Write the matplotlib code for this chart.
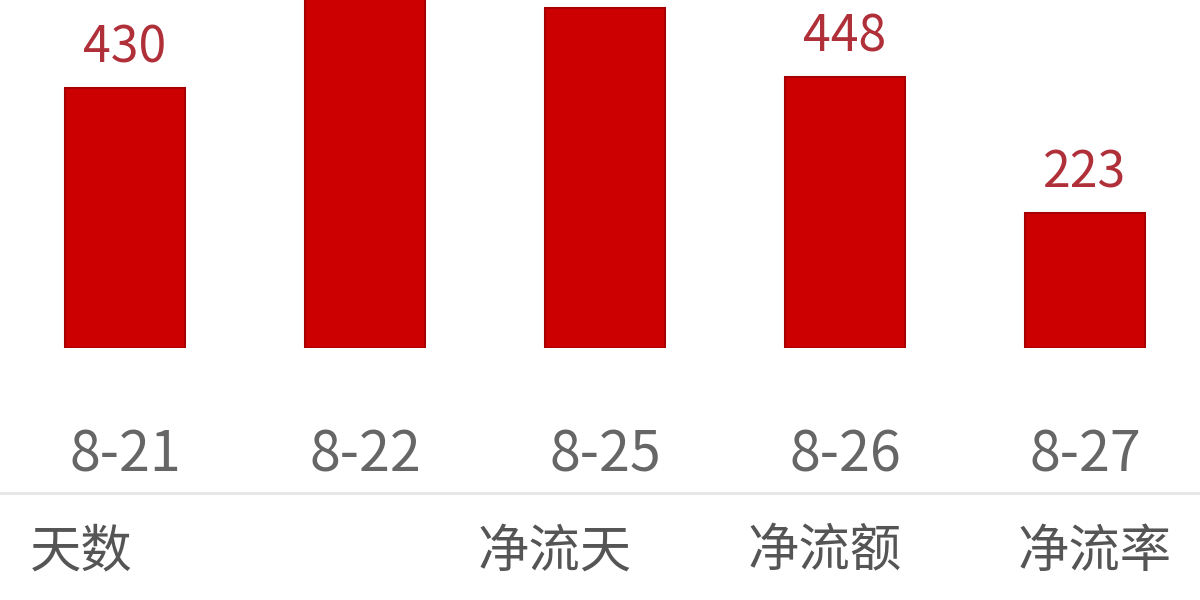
import matplotlib
matplotlib.use("Agg")
import matplotlib.pyplot as plt
from matplotlib.lines import Line2D

plt.rcParams['font.family'] = ['Noto Sans CJK SC', 'DejaVu Sans']

dates = ["8-21", "8-22", "8-25", "8-26", "8-27"]
values = [430, 600, 562, 448, 223]
footer = ["天数", "净流天", "净流额", "净流率"]

fig = plt.figure(figsize=(12, 6), dpi=100)
ax = fig.add_axes([0, 1 - 348 / 600, 1, 348 / 600])

x = range(len(dates))
ax.bar(x, values, width=0.5, color="#cc0000", edgecolor="#a80000", linewidth=1.5)

ymax = 575
for i, v in enumerate(values):
    # labels of the tallest bars fall above the visible area, as in the screenshot
    if v + 90 < ymax:
        ax.text(i, v + 22, str(v), ha="center", va="bottom", fontsize=36,
                color="#b0303a")

ax.set_xlim(-125 / 240, (1200 - 125) / 240)
ax.set_ylim(0, ymax)
ax.set_yticks([])
ax.set_xticks(list(x))
ax.set_xticklabels(dates, fontsize=40, color="#666666")
ax.tick_params(axis="x", length=0, pad=57)
for s in ax.spines.values():
    s.set_visible(False)

# separator line
fig.add_artist(Line2D([0, 1], [1 - 493 / 600] * 2, transform=fig.transFigure,
                      color="#e6e6e6", lw=2))

# footer labels
fy = 1 - 552 / 600
fig.text(30 / 1200, fy, footer[0], ha="left", va="center", fontsize=37, color="#555555")
fig.text(555 / 1200, fy, footer[1], ha="center", va="center", fontsize=37, color="#555555")
fig.text(825 / 1200, fy, footer[2], ha="center", va="center", fontsize=37, color="#555555")
fig.text(1095 / 1200, fy, footer[3], ha="center", va="center", fontsize=37, color="#555555")

fig.savefig("out.png", dpi=100)
